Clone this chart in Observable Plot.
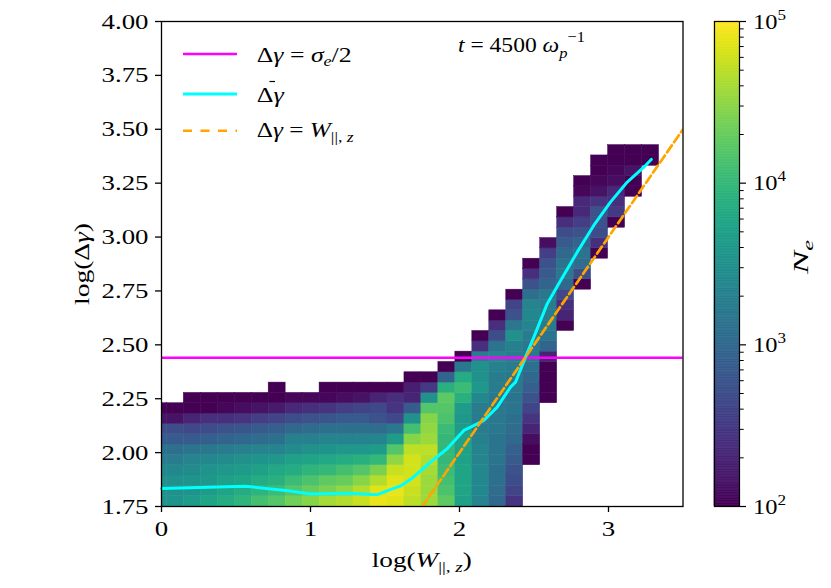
<!DOCTYPE html>
<html><head><meta charset="utf-8">
<script src="https://cdn.jsdelivr.net/npm/d3@7"></script>
<script src="https://cdn.jsdelivr.net/npm/@observablehq/plot@0.6"></script>
<style>
body{margin:0;background:#fff;}
#wrap{position:relative;width:831px;height:588px;overflow:hidden;}
svg text{font-family:"Liberation Serif","Times New Roman",serif;}
</style></head><body><div id="wrap"></div>
<script>
// ---- histogram binning (log W, log Δγ) ----
const xBinStart = -0.078, xBinWidth = 0.1139;
const yBinStart = 1.75, yBinWidth = 0.0479;
// first occupied row of each column
const colStart = [0,0,0,0,0,0,0,0,0,0,0,0,0,0,0,0,0,0,0,0,0,0,4,10,17,21,24,27,30,33];
// log10(N_e) per cell, bottom to top, one list per column
const colLogN = [
  [3.55,3.5,3.5,3.4,3.25,3.1,2.85,2.7,2.15,2.0],
  [3.55,3.5,3.5,3.4,3.25,3.1,2.85,2.7,2.15,2.0],
  [3.65,3.55,3.55,3.45,3.35,3.15,2.85,2.65,2.3,2.0,2.0],
  [3.75,3.65,3.6,3.55,3.4,3.2,2.9,2.7,2.4,2.0,2.0],
  [3.85,3.75,3.7,3.6,3.45,3.25,2.95,2.75,2.4,2.05,2.0],
  [3.95,3.85,3.75,3.65,3.5,3.3,3.0,2.8,2.45,2.1,2.0],
  [4.1,3.95,3.85,3.7,3.55,3.35,3.05,2.85,2.55,2.15,2.0],
  [4.2,4.05,3.9,3.8,3.6,3.35,3.1,2.9,2.6,2.2,2.0,2.0],
  [4.35,4.2,4.05,3.85,3.7,3.45,3.3,3.0,2.7,2.35,2.05],
  [4.45,4.3,4.15,3.95,3.75,3.5,3.3,3.05,2.75,2.4,2.05],
  [4.6,4.4,4.25,4.0,3.8,3.55,3.35,3.1,2.8,2.45,2.05,2.0],
  [4.65,4.5,4.3,4.1,3.85,3.6,3.35,3.1,2.85,2.55,2.1,2.0],
  [4.75,4.65,4.45,4.2,3.9,3.6,3.35,3.1,2.85,2.6,2.15,2.0],
  [4.9,4.85,4.65,4.4,4.0,3.65,3.35,3.05,2.75,2.65,2.3,2.0],
  [4.85,4.9,4.85,4.75,4.5,4.2,3.65,3.2,2.65,2.45,2.4,2.0],
  [4.7,4.75,4.8,4.8,4.8,4.7,4.45,4.1,3.5,2.85,2.3,2.25,2.0],
  [4.55,4.55,4.55,4.6,4.65,4.7,4.55,4.5,4.45,4.2,3.5,2.5,2.0],
  [4.25,4.15,4.1,4.05,4.0,4.0,4.0,4.05,4.15,4.2,4.25,3.9,2.95,2.0],
  [3.7,3.75,3.75,3.75,3.7,3.7,3.7,3.65,3.6,3.65,3.9,4.05,3.85,3.2,2.0],
  [3.35,3.4,3.4,3.4,3.35,3.35,3.3,3.25,3.25,3.25,3.4,3.6,3.5,3.5,3.25,2.4,2.0],
  [3.0,3.05,3.1,3.1,3.15,3.15,3.15,3.2,3.2,3.2,3.2,3.25,3.25,3.3,3.35,3.15,2.7,2.4,2.0],
  [2.45,2.6,2.7,2.75,2.85,2.9,3.0,3.05,3.1,3.15,3.15,3.2,3.2,3.25,3.25,3.3,3.5,3.2,2.75,2.6,2.0],
  [2.0,2.0,2.1,2.3,2.45,2.6,2.75,2.9,3.0,3.1,3.2,3.2,3.25,3.35,3.4,3.35,3.1,2.75,2.4,2.0],
  [2.0,2.0,2.0,2.0,2.3,2.95,3.15,3.25,3.25,3.25,3.2,2.95,2.85,2.75,2.55,2.1],
  [2.0,2.3,2.4,2.65,3.0,3.2,3.15,3.0,2.85,2.7,2.4,2.0],
  [2.0,2.7,3.05,3.15,2.95,2.75,2.55,2.35,2.35,2.05,2.0],
  [2.0,2.4,2.7,2.75,2.75,2.45,2.15,2.05,2.0,2.0],
  [2.0,2.5,2.4,2.35,2.1,2.05,2.0,2.0],
  [2.0,2.0,2.15,2.0,2.0],
  [2.0,2.0]
];
// mean Δγ curve
const meanX = [0,0.562,0.852,1.0,1.246,1.448,1.557,1.604,1.691,1.805,1.917,2.029,2.085,2.163,2.253,2.342,2.376,2.443,2.499,2.589,2.666,2.790,2.901,3.013,3.126,3.237,3.287];
const meanY = [1.834,1.844,1.823,1.808,1.812,1.805,1.834,1.845,1.886,1.956,2.018,2.103,2.122,2.149,2.211,2.304,2.327,2.443,2.536,2.691,2.783,2.930,3.054,3.162,3.255,3.324,3.360];
const sigmaHalf = [2.44];          // Δγ = σe/2
const wLine = [1.75, 3.5];         // Δγ = W (log-log identity)
const xTicks = [0, 1, 2, 3];
const yTicks = [1.75, 2.00, 2.25, 2.50, 2.75, 3.00, 3.25, 3.50, 3.75, 4.00];
const cbMajor = [1e2, 1e3, 1e4, 1e5];
const cbMinorMult = [2,3,4,5,6,7,8,9];
const cbDecades = [1e2, 1e3, 1e4];

const cells = [];
colLogN.forEach((vals, j) => vals.forEach((v, k) => {
  const r = colStart[j] + k;
  cells.push({x1: xBinStart + j*xBinWidth, x2: xBinStart + (j+1)*xBinWidth,
              y1: yBinStart + r*yBinWidth, y2: yBinStart + (r+1)*yBinWidth, n: Math.pow(10, v)});
}));
const meanData = meanX.map((x, i) => ({x, y: meanY[i]}));
const wData = wLine.map(w => ({x: w, y: w}));

const W = 831, H = 588, mL = 161, mR = 831 - 682.5, mT = 21, mB = 82;
const colorOpts = {type: "log", domain: [1e2, 1e5], scheme: "viridis"};

const chart = Plot.plot({
  width: W, height: H, marginLeft: mL, marginRight: mR, marginTop: mT, marginBottom: mB,
  style: {fontFamily: "Liberation Serif", fontSize: "22px", color: "black", background: "white", overflow: "visible"},
  x: {domain: [0, 3.5], label: null},
  y: {domain: [1.75, 4.0], label: null},
  color: colorOpts,
  marks: [
    Plot.rect(cells, {x1: "x1", x2: "x2", y1: "y1", y2: "y2", fill: "n", stroke: "n", strokeWidth: 0.5, clip: true}),
    Plot.ruleY(sigmaHalf, {stroke: "#ff00ff", strokeWidth: 2.6}),
    Plot.line(meanData, {x: "x", y: "y", stroke: "#00ffff", strokeWidth: 3, curve: "linear"}),
    Plot.line(wData, {x: "x", y: "y", stroke: "#ffa500", strokeWidth: 2.7, strokeDasharray: "8.5,3.8", clip: true}),
    Plot.frame({stroke: "black", strokeWidth: 1.3}),
    Plot.axisX(xTicks, {tickSize: 6, tickPadding: 8, strokeWidth: 1.3, tickFormat: d3.format("d"), label: null}),
    Plot.axisY(yTicks, {tickSize: 6, tickPadding: 7, strokeWidth: 1.3, tickFormat: d3.format(".2f"), label: null})
  ]
});

// colorbar
const cbStops = d3.range(2, 5, 0.01).map(e => ({lo: Math.pow(10, e), hi: Math.pow(10, e + 0.01), mid: Math.pow(10, e + 0.005)}));
const cbMinor = cbDecades.flatMap(d => cbMinorMult.map(m => m * d));
const cbLeft = 690;
const cb = Plot.plot({
  width: 141, height: H, marginLeft: 24, marginRight: 141 - 24 - 25, marginTop: mT, marginBottom: mB,
  style: {fontFamily: "Liberation Serif", fontSize: "22px", color: "black", background: "transparent", overflow: "visible"},
  x: {domain: [0, 1], axis: null},
  y: {type: "log", domain: [1e2, 1e5], axis: null, label: null},
  color: colorOpts,
  marks: [
    Plot.rect(cbStops, {x1: 0, x2: 1, y1: "lo", y2: "hi", fill: "mid", stroke: "mid", strokeWidth: 0.6}),
    Plot.axisY(cbMajor, {anchor: "right", tickSize: 6, strokeWidth: 1.2, fill: "none", label: null}),
    Plot.axisY(cbMinor, {anchor: "right", tickSize: 3.7, strokeWidth: 1, fill: "none", label: null}),
    Plot.frame({stroke: "black", strokeWidth: 1.2})
  ]
});
cb.style.position = "absolute";
cb.style.left = cbLeft + "px";
cb.style.top = "0px";

const wrap = document.getElementById("wrap");
wrap.appendChild(chart);
wrap.appendChild(cb);

// stretch Plot tick labels (reference serif is wider than Liberation Serif)
const STRETCH = 1.22;
chart.querySelectorAll("text").forEach(t => {
  const L = t.getComputedTextLength();
  if (L > 0) { t.setAttribute("textLength", (L * STRETCH).toFixed(2)); t.setAttribute("lengthAdjust", "spacingAndGlyphs"); }
});

const FF = "Liberation Serif";
function mathText(parent, x, y, size, parts, length, anchor, rotate) {
  const t = parent.append("text").attr("font-family", FF).attr("font-size", size).attr("fill", "black")
    .attr("text-anchor", anchor || "start");
  if (rotate) t.attr("transform", `translate(${x},${y}) rotate(${rotate})`).attr("x", 0).attr("y", 0);
  else t.attr("x", x).attr("y", y);
  parts.forEach(p => {
    const s = t.append("tspan").text(p.t);
    if (p.i) s.attr("font-style", "italic");
    if (p.s) s.attr("font-size", size * p.s);
    if (p.dy) s.attr("dy", p.dy);
  });
  if (length) t.attr("textLength", length).attr("lengthAdjust", "spacingAndGlyphs");
  return t;
}

const g = d3.select(chart).append("g");
// axis labels
mathText(g, (mL + W - mR) / 2, 567, 22, [
  {t: "log("}, {t: "W", i: true}, {t: "||, ", s: 0.7, dy: 5}, {t: "z", i: true, s: 0.7}, {t: ")", dy: -5}
], 100, "middle");
mathText(g, 88.5, 264, 22, [
  {t: "log(Δ"}, {t: "γ", i: true}, {t: ")"}
], 82, "middle", -90);

// legend
const lg = g.append("g");
const legendRows = [
  {y: 54, stroke: "#ff00ff", dash: null, base: 61.7, len: 95,
   parts: [{t: "Δ"}, {t: "γ", i: true}, {t: " = "}, {t: "σ", i: true}, {t: "e", i: true, s: 0.7, dy: 4}, {t: "/2", dy: -4}]},
  {y: 94, stroke: "#00ffff", dash: null, base: 102.3, len: 27,
   parts: [{t: "Δ"}, {t: "γ", i: true}]},
  {y: 130.7, stroke: "#ffa500", dash: "9,8.5", base: 136.7, len: 97,
   parts: [{t: "Δ"}, {t: "γ", i: true}, {t: " = "}, {t: "W", i: true}, {t: "||, ", s: 0.7, dy: 5}, {t: "z", i: true, s: 0.7}]}
];
legendRows.forEach(r => {
  const ln = lg.append("line").attr("x1", 183).attr("x2", 237).attr("y1", r.y).attr("y2", r.y)
    .attr("stroke", r.stroke).attr("stroke-width", r.stroke === "#00ffff" ? 3 : 2.6);
  if (r.dash) ln.attr("stroke-dasharray", r.dash);
  mathText(lg, 256.7, r.base, 21, r.parts, r.len, "start");
});
// overbar of mean Δγ
lg.append("line").attr("x1", 269.5).attr("x2", 275).attr("y1", 81.5).attr("y2", 81.5).attr("stroke", "black").attr("stroke-width", 1.2);

// time annotation
mathText(g, 458, 52, 22, [
  {t: "t", i: true}, {t: " = 4500 "}, {t: "ω", i: true}, {t: "p", i: true, s: 0.7, dy: 6}, {t: "−1", s: 0.7, dy: -16}
], 127, "start");

// colorbar labels
const cg = d3.select(cb).append("g");
const ys = cb.scale("y");
const cbTickEnd = 24 + 25 + 6 + 8;
cbMajor.forEach(v => {
  const e = Math.round(Math.log10(v));
  mathText(cg, cbTickEnd, ys.apply(v) + 7.5, 22, [{t: "10"}, {t: String(e), s: 0.7, dy: -9}], 33, "start");
});
mathText(cg, 118, 257, 22, [{t: "N", i: true}, {t: "e", i: true, s: 0.7, dy: 5}], 34, "middle", -90);
</script></body></html>
